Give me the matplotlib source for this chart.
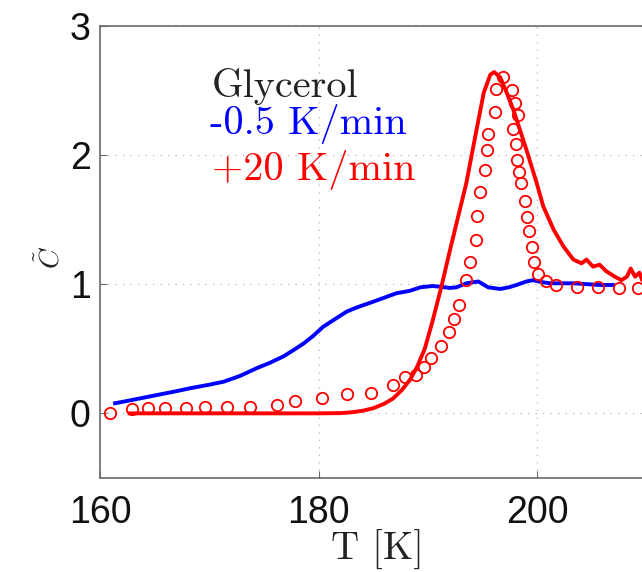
import matplotlib
matplotlib.use("Agg")
import matplotlib.pyplot as plt

# ---- data ----
blue_T = [161.35, 163.0, 165.2, 167.0, 168.2, 170.0, 171.3, 172.8, 174.3, 175.5,
          176.75, 177.7, 178.6, 179.5, 180.4, 181.5, 182.55, 183.5, 185.0, 186.0,
          187.1, 188.35, 189.3, 190.4, 191.25, 192.0, 192.6, 193.5, 194.6, 195.5,
          196.6, 197.4, 198.1, 199.0, 199.6, 200.4, 201.2, 203.3, 205.7, 206.9]
blue_C = [0.078, 0.105, 0.142, 0.172, 0.194, 0.222, 0.245, 0.29, 0.349, 0.39,
          0.44, 0.49, 0.54, 0.60, 0.67, 0.73, 0.787, 0.82, 0.864, 0.895,
          0.929, 0.948, 0.975, 0.985, 0.978, 0.97, 0.975, 1.006, 1.02, 0.975,
          0.962, 0.975, 0.993, 1.02, 1.03, 1.015, 1.006, 1.006, 0.993, 0.993]

red_T = [162.7, 166.0, 170.0, 175.0, 180.0, 182.0, 183.0, 184.0, 185.0, 186.0,
         186.8, 187.6, 188.35, 189.0, 189.7, 190.4, 191.25, 192.0, 193.5, 194.5,
         195.1, 195.7, 196.05, 196.6, 197.2, 197.8, 199.0, 199.95, 200.55, 201.5,
         202.4, 203.3, 204.05, 204.5, 205.1, 205.7, 206.3, 207.1, 207.7, 208.2,
         208.55, 208.95, 209.35, 209.6, 210.2]
red_C = [0.0, 0.0, 0.0, 0.0, 0.0, 0.002, 0.008, 0.02, 0.04, 0.075,
         0.115, 0.18, 0.26, 0.36, 0.50, 0.71, 0.99, 1.26, 1.78, 2.22,
         2.48, 2.62, 2.64, 2.60, 2.48, 2.35, 2.04, 1.78, 1.60, 1.42,
         1.29, 1.19, 1.16, 1.19, 1.135, 1.15, 1.10, 1.057, 1.03, 1.057,
         1.12, 1.057, 1.088, 1.03, 1.05]

circ_T = [160.9, 162.9, 164.4, 165.9, 167.85, 169.6, 171.6, 173.7, 176.15, 177.8,
          180.25, 182.6, 184.8, 186.8, 187.9, 188.9, 189.6, 190.3, 191.2, 191.9,
          192.4, 192.8, 193.5, 193.8, 194.4, 194.5, 194.75, 195.2, 195.4, 195.5,
          196.1, 196.2, 196.9, 197.65, 197.95, 198.25, 197.8, 198.05, 198.15, 198.35,
          198.5, 198.85, 199.1, 199.25, 199.55, 199.7, 200.05, 200.8, 201.7, 203.6,
          205.6, 207.45, 209.2]
circ_C = [0.0, 0.03, 0.04, 0.04, 0.04, 0.047, 0.047, 0.047, 0.065, 0.098,
          0.117, 0.15, 0.16, 0.22, 0.28, 0.30, 0.36, 0.43, 0.52, 0.63,
          0.73, 0.84, 1.03, 1.17, 1.34, 1.53, 1.71, 1.88, 2.04, 2.16,
          2.33, 2.51, 2.60, 2.50, 2.40, 2.31, 2.20, 2.08, 1.96, 1.87,
          1.78, 1.64, 1.52, 1.41, 1.29, 1.17, 1.08, 1.02, 0.993, 0.975,
          0.975, 0.967, 0.967]

xticks = [160, 180, 200]
yticks = [0, 1, 2, 3]

plt.rcParams['mathtext.fontset'] = 'cm'

W, H = 642, 572
fig = plt.figure(figsize=(W / 100, H / 100), dpi=100)
ax = fig.add_axes([100.3 / W, (H - 478) / H, 655.5 / W, 452.5 / H])

ax.plot(blue_T, blue_C, color=(0, 0, 1), lw=2.8, solid_joinstyle='round', zorder=3)
ax.plot(red_T, red_C, color=(1, 0, 0), lw=2.8, solid_joinstyle='round', zorder=3)
ax.plot(circ_T, circ_C, linestyle='none', marker='o', ms=8.2, mfc='none',
        mec=(1, 0, 0), mew=1.3, zorder=4)

ax.set_xlim(160, 220)
ax.set_ylim(-0.5, 3)
ax.set_xticks(xticks)
ax.set_yticks(yticks)
ax.grid(True, color='#b5b5b5', linestyle=(0, (1, 5)), lw=0.9)
for s in ax.spines.values():
    s.set_color('#6a6a6a')
    s.set_linewidth(1.2)
ax.tick_params(direction='in', length=5, width=0.8, color='#6a6a6a',
               labelsize=27, labelcolor='#111111', pad=7)
for lab in ax.get_xticklabels() + ax.get_yticklabels():
    lab.set_family('Liberation Sans')
ax.tick_params(axis='x', pad=12)

fs = 29
ax.text(170.2, 2.447, 'Glycerol', family='cmr10', fontsize=fs, color='#222222', va='baseline')
ax.text(170.0, 2.16, '-0.5 K/min', family='cmr10', fontsize=fs, color=(0, 0, 1), va='baseline')
ax.text(170.2, 1.805, '+20 K/min', family='cmr10', fontsize=fs, color=(1, 0, 0), va='baseline')

fig.text(377 / W, 1 - 550 / H, 'T [K]', family='cmr10', fontsize=28, color='#222222',
         ha='center', va='center')
fig.text(51 / W, 1 - 257 / H, r'$\tilde{C}$', fontsize=20, color='#222222',
         ha='center', va='center', rotation=90)

fig.savefig('out.png', dpi=100)
